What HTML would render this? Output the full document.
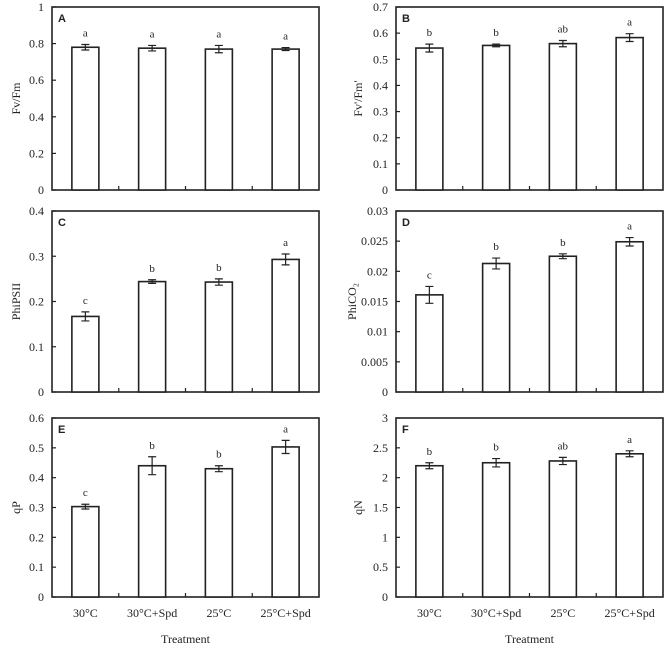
<!DOCTYPE html>
<html><head><meta charset="utf-8"><style>
html,body{margin:0;padding:0;background:#fff;}
svg text{font-family:"Liberation Serif",serif;fill:#222;}
</style></head><body>
<svg id="chart" width="666" height="647" viewBox="0 0 666 647" xmlns="http://www.w3.org/2000/svg"></svg>
<script>
const categories = ["30°C","30°C+Spd","25°C","25°C+Spd"];
const valuesA = [0.78,0.775,0.77,0.77];
const errorsA = [0.015,0.015,0.02,0.008];
const lettersA = ["a","a","a","a"];
const valuesB = [0.543,0.553,0.56,0.583];
const errorsB = [0.015,0.005,0.012,0.015];
const lettersB = ["b","b","ab","a"];
const valuesC = [0.167,0.244,0.243,0.293];
const errorsC = [0.01,0.004,0.007,0.012];
const lettersC = ["c","b","b","a"];
const valuesD = [0.0161,0.0213,0.0225,0.0249];
const errorsD = [0.0014,0.0009,0.0004,0.0007];
const lettersD = ["c","b","b","a"];
const valuesE = [0.303,0.44,0.43,0.503];
const errorsE = [0.008,0.03,0.01,0.022];
const lettersE = ["c","b","b","a"];
const valuesF = [2.2,2.25,2.28,2.4];
const errorsF = [0.05,0.07,0.06,0.05];
const lettersF = ["b","b","ab","a"];
const ticksA = ["0","0.2","0.4","0.6","0.8","1"];
const ticksB = ["0","0.1","0.2","0.3","0.4","0.5","0.6","0.7"];
const ticksC = ["0","0.1","0.2","0.3","0.4"];
const ticksD = ["0","0.005","0.01","0.015","0.02","0.025","0.03"];
const ticksE = ["0","0.1","0.2","0.3","0.4","0.5","0.6"];
const ticksF = ["0","0.5","1","1.5","2","2.5","3"];

const NS="http://www.w3.org/2000/svg";
const svg=document.getElementById('chart');
function mk(tag,attrs,parent){const e=document.createElementNS(NS,tag);for(const k in attrs)e.setAttribute(k,attrs[k]);(parent||svg).appendChild(e);return e;}

const panels=[
 {id:"A",title:"Fv/Fm",v:valuesA,e:errorsA,l:lettersA,t:ticksA,x0:52,x1:319,y0:7,y1:190,tx:20,xl:false},
 {id:"B",title:"Fv'/Fm'",v:valuesB,e:errorsB,l:lettersB,t:ticksB,x0:396,x1:663,y0:7,y1:190,tx:362,xl:false},
 {id:"C",title:"PhiPSII",v:valuesC,e:errorsC,l:lettersC,t:ticksC,x0:52,x1:319,y0:211,y1:392,tx:20,xl:false},
 {id:"D",title:"PhiCO₂",v:valuesD,e:errorsD,l:lettersD,t:ticksD,x0:396,x1:663,y0:211,y1:392,tx:356,xl:false},
 {id:"E",title:"qP",v:valuesE,e:errorsE,l:lettersE,t:ticksE,x0:52,x1:319,y0:418,y1:597,tx:20,xl:true},
 {id:"F",title:"qN",v:valuesF,e:errorsF,l:lettersF,t:ticksF,x0:396,x1:663,y0:418,y1:597,tx:362,xl:true}
];
panels.forEach(p=>{
  const g=mk('g',{});
  
  
  const max=parseFloat(p.t[p.t.length-1]);
  const y=v=>p.y1-(v/max)*(p.y1-p.y0);
  const bw=(p.x1-p.x0)/categories.length;
  const xc=i=>p.x0+(i+0.5)*bw;
  const frame=mk('rect',{x:p.x0,y:p.y0,width:p.x1-p.x0,height:p.y1-p.y0,fill:'none',stroke:'#222','stroke-width':1.6},g);
  
  
  const lab=mk('text',{x:p.x0+6,y:p.y0+15,'font-size':11,'font-weight':'bold',style:'font-family:"Liberation Sans",sans-serif'},g);
  lab.textContent=p.id;
  
  
  p.t.forEach(tk=>{
    const yy=y(parseFloat(tk));
    const tl=mk('line',{x1:p.x0,x2:p.x0+4,y1:yy,y2:yy,stroke:'#222','stroke-width':1.2},g);
    
    
    const tt=mk('text',{x:p.x0-8,y:yy+4,'font-size':12,'text-anchor':'end'},g);
    tt.textContent=tk;
    
    
  });
  for(let i=1;i<categories.length;i++){
    const mx=p.x0+i*bw;
    const ml=mk('line',{x1:mx,x2:mx,y1:p.y1,y2:p.y1-4,stroke:'#222','stroke-width':1.2},g);
    
    
  }
  const at=mk('text',{x:p.tx,y:(p.y0+p.y1)/2,'font-size':12,'text-anchor':'middle',transform:`rotate(-90 ${p.tx} ${(p.y0+p.y1)/2})`},g);
  at.textContent=p.title;
  
  
  p.v.forEach((v,i)=>{
    const c=xc(i), w=27;
    const bar=mk('rect',{x:c-w/2,y:y(v),width:w,height:p.y1-y(v),fill:'#fff',stroke:'#222','stroke-width':1.6},g);
    
    
    const hi=y(v+p.e[i]), lo=y(v-p.e[i]);
    const eb=mk('path',{d:`M${c},${hi}V${lo}M${c-4},${hi}H${c+4}M${c-4},${lo}H${c+4}`,stroke:'#222','stroke-width':1.2,fill:'none'},g);
    
    
    const lt=mk('text',{x:c,y:hi-8,'font-size':11,'text-anchor':'middle'},g);
    lt.textContent=p.l[i];
    
    
    if(p.xl){
      const xt=mk('text',{x:c,y:617,'font-size':12,'text-anchor':'middle'},g);
      xt.textContent=categories[i];
      
      
    }
  });
  if(p.xl){
    const xt=mk('text',{x:(p.x0+p.x1)/2,y:643,'font-size':12,'text-anchor':'middle'},g);
    xt.textContent='Treatment';
    
    
  }
});
</script>
</body></html>
